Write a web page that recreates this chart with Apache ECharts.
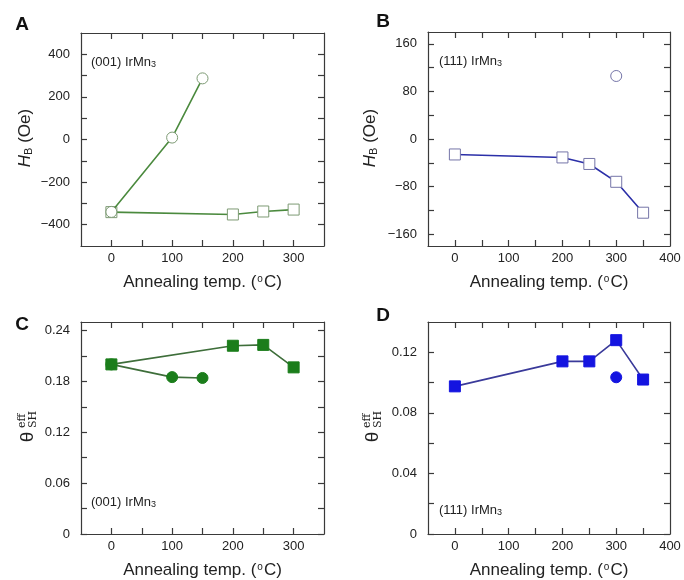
<!DOCTYPE html>
<html><head><meta charset="utf-8">
<script src="https://cdn.jsdelivr.net/npm/echarts@6/dist/echarts.min.js"></script>
<style>html,body{margin:0;padding:0;background:#fff}#c{width:684px;height:580px}</style>
</head><body><div id="c"></div>
<script>
// ---- data ----
const tempA_circ = [0, 100, 150];
const hbA_circ   = [-340, 9, 287];
const tempA_sq   = [0, 200, 250, 300];
const hbA_sq     = [-341, -352, -338, -329];

const tempB_sq   = [0, 200, 250, 300, 350];
const hbB_sq     = [-26, -31, -42, -72, -124];
const tempB_circ = [300];
const hbB_circ   = [106];

const tempC_circ = [0, 100, 150];
const thC_circ   = [0.200, 0.185, 0.184];
const tempC_sq   = [0, 200, 250, 300];
const thC_sq     = [0.200, 0.222, 0.223, 0.1965];

const tempD_sq   = [0, 200, 250, 300, 350];
const thD_sq     = [0.0975, 0.114, 0.114, 0.128, 0.102];
const tempD_circ = [300];
const thD_circ   = [0.1035];

// tick values / labels
const xTicksA = [0, 50, 100, 150, 200, 250, 300];
const xLabelsA = [0, 100, 200, 300];
const xTicksB = [0, 50, 100, 150, 200, 250, 300, 350];
const xLabelsB = [0, 100, 200, 300, 400];
const yTicksA = [-400, -300, -200, -100, 0, 100, 200, 300, 400];
const yLabelsA = [-400, -200, 0, 200, 400];
const yTicksB = [-160, -120, -80, -40, 0, 40, 80, 120, 160];
const yLabelsB = [-160, -80, 0, 80, 160];
const yTicksC = [0, 0.03, 0.06, 0.09, 0.12, 0.15, 0.18, 0.21, 0.24];
const yLabelsC = [0, 0.06, 0.12, 0.18, 0.24];
const yTicksD = [0, 0.02, 0.04, 0.06, 0.08, 0.10, 0.12];
const yLabelsD = [0, 0.04, 0.08, 0.12];

const zip = (a, b) => a.map((v, i) => [v, b[i]]);

const FONT = 'Liberation Sans, Arial, sans-serif';
const AX = '#3a3a3a';

const grids = [
  {left: 81, top: 33, width: 243, height: 213},
  {left: 428, top: 32, width: 242, height: 214},
  {left: 81, top: 322, width: 243, height: 213},
  {left: 428, top: 322, width: 242, height: 213}
];

function fmtNum(dec) {
  return v => {
    if (Math.abs(v) < 1e-9) return '0';
    const s = dec ? v.toFixed(dec) : String(Math.round(v));
    return s.replace('-', '\u2212');
  };
}

const xAxis = [], yAxis = [];
function addAxes(gi, xr, xt, xl, yr, yt, yl, dec) {
  const common = {
    type: 'value', gridIndex: gi, splitLine: {show: false},
    axisLine: {show: true, onZero: false, lineStyle: {color: AX, width: 1.2}},
  };
  xAxis.push(Object.assign({}, common, {
    position: 'bottom', min: xr[0], max: xr[1],
    axisTick: {inside: true, length: 6, customValues: xt, lineStyle: {color: AX, width: 1.2}},
    axisLabel: {customValues: xl, fontSize: 13, fontFamily: FONT, color: '#222', margin: 6, formatter: fmtNum(0)},
    name: '{n|Annealing temp. (}{s|o}{n|C)}', nameLocation: 'middle', nameGap: 28,
    nameTextStyle: {rich: {
      n: {fontSize: 17, fontFamily: FONT, color: '#222'},
      s: {fontSize: 10, fontFamily: FONT, color: '#222', verticalAlign: 'top', padding: [0, 1, 6, 1]}
    }}
  }));
  xAxis.push(Object.assign({}, common, {
    position: 'top', min: xr[0], max: xr[1],
    axisTick: {inside: true, length: 6, customValues: xt, lineStyle: {color: AX, width: 1.2}},
    axisLabel: {show: false}
  }));
  yAxis.push(Object.assign({}, common, {
    position: 'left', min: yr[0], max: yr[1],
    axisTick: {inside: true, length: 6, customValues: yt, lineStyle: {color: AX, width: 1.2}},
    axisLabel: {customValues: yl, fontSize: 13, fontFamily: FONT, color: '#222', margin: 11, formatter: fmtNum(dec)}
  }));
  yAxis.push(Object.assign({}, common, {
    position: 'right', min: yr[0], max: yr[1],
    axisTick: {inside: true, length: 6, customValues: yt, lineStyle: {color: AX, width: 1.2}},
    axisLabel: {show: false}
  }));
}
addAxes(0, [-50, 350], xTicksA, xLabelsA, [-500, 500], yTicksA, yLabelsA, 0);
addAxes(1, [-50, 400], xTicksB, xLabelsB, [-180, 180], yTicksB, yLabelsB, 0);
addAxes(2, [-50, 350], xTicksA, xLabelsA, [0, 0.25], yTicksC, yLabelsC, 2);
addAxes(3, [-50, 400], xTicksB, xLabelsB, [0, 0.14], yTicksD, yLabelsD, 2);

function ser(gi, data, symbol, lineColor, fill, border, showLine, z) {
  return {
    type: 'line', xAxisIndex: gi * 2, yAxisIndex: gi * 2, data: data,
    symbol: symbol, symbolSize: 11, z: z, silent: true, animation: false,
    lineStyle: {color: lineColor, width: showLine ? 1.6 : 0, opacity: showLine ? 1 : 0},
    itemStyle: {color: fill, borderColor: border, borderWidth: 1, opacity: 1}
  };
}
const gLine = '#4b8a3e', gBorder = '#7d9a74';
const bLine = '#2b2fa8', bBorder = '#7575a8';
const gFill = '#1b7d1b', bFill = '#1414e0';

const series = [
  ser(0, zip(tempA_circ, hbA_circ), 'circle', gLine, '#fff', gBorder, true, 3),
  ser(0, zip(tempA_sq, hbA_sq), 'rect', gLine, '#fff', gBorder, true, 2),
  ser(1, zip(tempB_sq, hbB_sq), 'rect', bLine, '#fff', bBorder, true, 2),
  ser(1, zip(tempB_circ, hbB_circ), 'circle', bLine, '#fff', bBorder, false, 2),
  ser(2, zip(tempC_circ, thC_circ), 'circle', '#3e6e3a', gFill, gFill, true, 2),
  ser(2, zip(tempC_sq, thC_sq), 'rect', '#3e6e3a', gFill, gFill, true, 3),
  ser(3, zip(tempD_sq, thD_sq), 'rect', '#3a3a9a', bFill, bFill, true, 2),
  ser(3, zip(tempD_circ, thD_circ), 'circle', '#3a3a9a', bFill, bFill, false, 2)
];

function letter(t, x, y) {
  return {type: 'text', x: x, y: y, style: {text: t, font: 'bold 19px ' + FONT, fill: '#111', align: 'center', verticalAlign: 'middle'}};
}
function anno(t, x, y) {
  return {type: 'text', x: x, y: y, style: {
    text: '{n|' + t + ' IrMn}{s|3}', verticalAlign: 'middle', align: 'left',
    rich: {n: {fontSize: 13, fontFamily: FONT, fill: '#222'}, s: {fontSize: 9, fontFamily: FONT, fill: '#222', verticalAlign: 'bottom', padding: [6, 0, 0, 0]}}
  }};
}
function hbName(x, y) {
  return {type: 'text', x: x, y: y, rotation: Math.PI / 2, style: {
    text: '{i|H}{s|B}{n| (Oe)}', align: 'center', verticalAlign: 'middle',
    rich: {
      i: {fontSize: 17, fontStyle: 'italic', fontFamily: FONT, fill: '#222'},
      s: {fontSize: 11, fontFamily: FONT, fill: '#222', verticalAlign: 'bottom', padding: [8, 0, 0, 0]},
      n: {fontSize: 17, fontFamily: FONT, fill: '#222'}
    }
  }};
}
function thName(x, y) {
  return {type: 'group', x: x, y: y, rotation: Math.PI / 2, children: [
    {type: 'text', x: -9, y: 1, style: {text: '\u03b8', font: '19px ' + FONT, fill: '#222', align: 'center', verticalAlign: 'middle'}},
    {type: 'text', x: 0, y: -5, style: {text: 'eff', font: '11px ' + 'DejaVu Serif, serif', fill: '#222', align: 'left', verticalAlign: 'middle'}},
    {type: 'text', x: 0, y: 6, style: {text: 'SH', font: '11px ' + 'DejaVu Serif, serif', fill: '#222', align: 'left', verticalAlign: 'middle'}}
  ]};
}

const graphic = [
  letter('A', 22, 25), letter('B', 383, 22), letter('C', 22, 325), letter('D', 383, 316),
  anno('(001)', 91, 62), anno('(111)', 439, 61), anno('(001)', 91, 502), anno('(111)', 439, 510),
  hbName(25, 138), hbName(370, 138),
  thName(27, 428), thName(372, 428)
];

const chart = echarts.init(document.getElementById('c'), null, {renderer: 'canvas'});
chart.setOption({
  animation: false,
  backgroundColor: '#fff',
  grid: grids,
  xAxis: xAxis,
  yAxis: yAxis,
  series: series,
  graphic: graphic
});
</script>
</body></html>
